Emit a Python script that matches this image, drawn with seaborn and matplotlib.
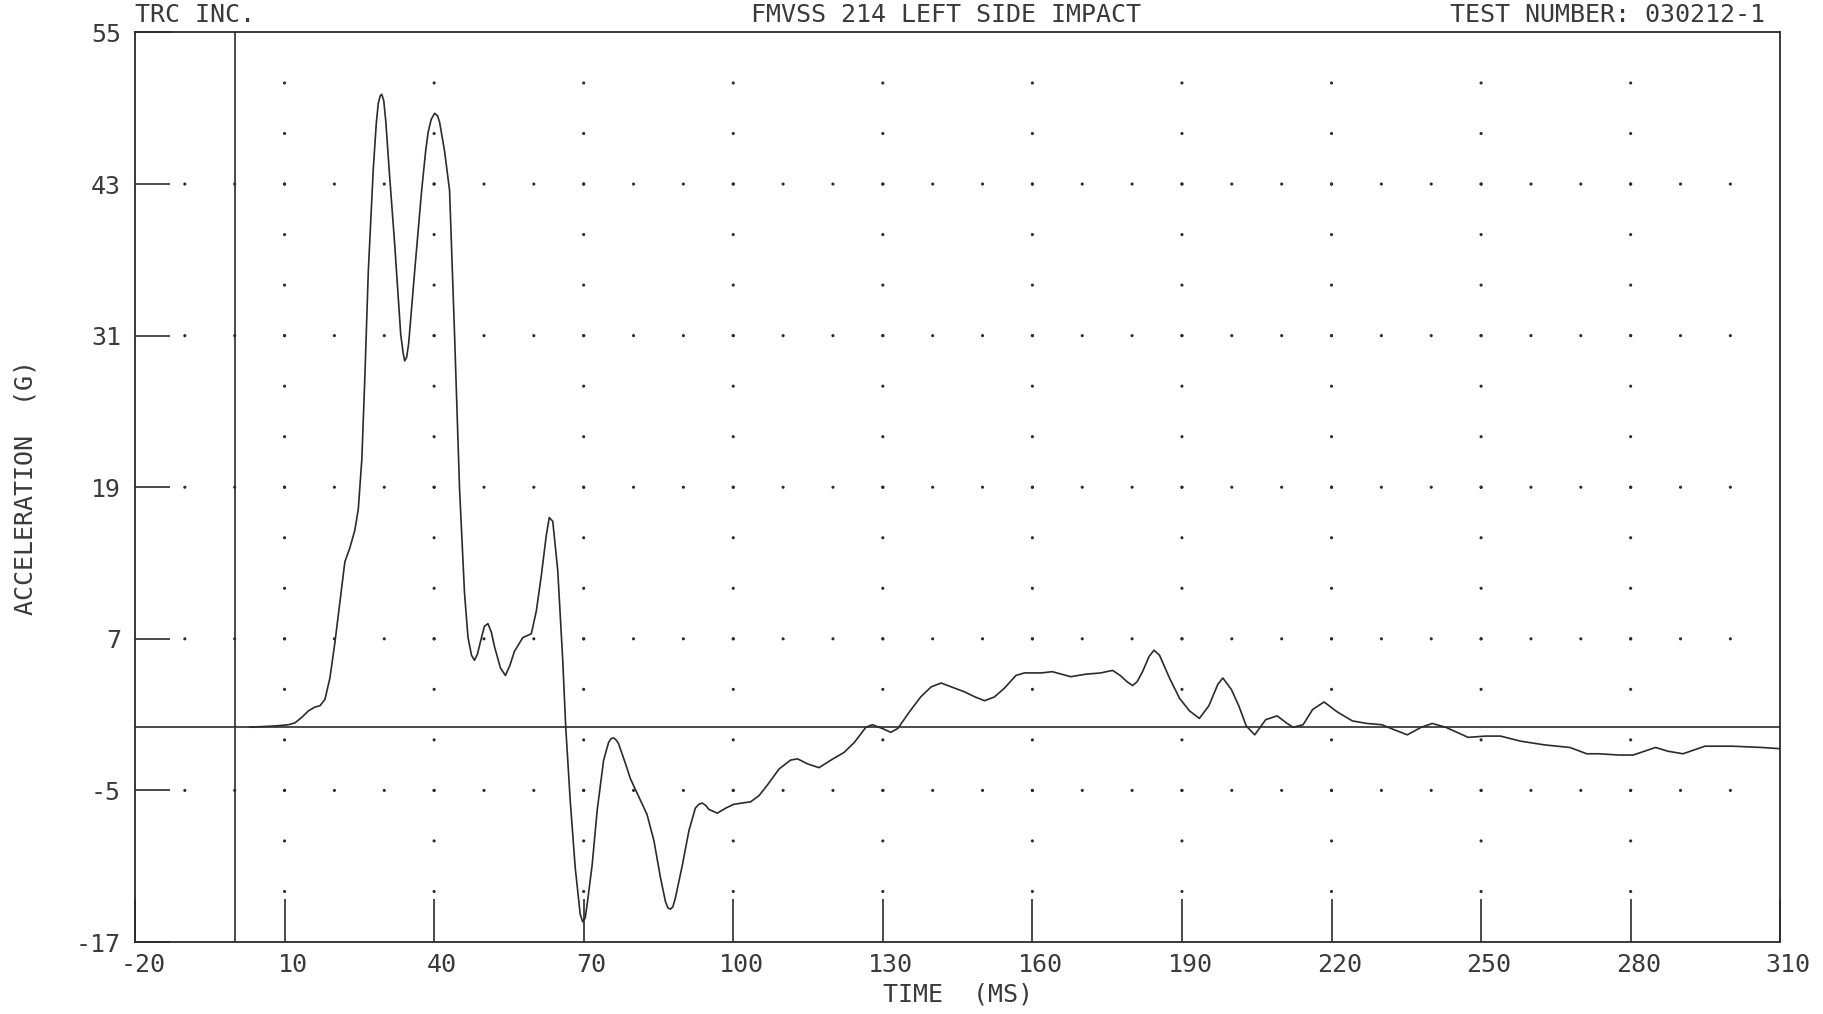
"""
FMVSS 214 left side impact - acceleration trace, redrawn with seaborn.
"""

import numpy as np
import matplotlib.pyplot as plt
import matplotlib.transforms as mtransforms
import seaborn as sns

# ---- data ----
time_ms = [
    3.0, 8.0, 10.8, 12.1, 13.5, 14.8, 16.1, 17.1, 18.1, 19.1, 20.1, 21.1,
    22.1, 23.1, 24.1, 24.8, 25.5, 26.1, 26.8, 27.8, 28.4, 28.8, 29.2, 29.5,
    29.9, 30.3, 31.1, 32.1, 33.3, 33.8, 34.1, 34.5, 34.9, 36.1, 37.5, 38.3,
    38.8, 39.4, 40.1, 40.7, 41.1, 42.1, 43.1, 44.1, 45.1, 46.1, 46.8, 47.5,
    48.1, 48.7, 49.5, 50.1, 50.8, 51.5, 52.1, 53.3, 54.3, 55.2, 56.1, 57.8,
    59.5, 60.5, 61.5, 62.5, 63.1, 63.8, 64.8, 65.8, 66.4, 67.3, 68.3, 69.3,
    69.8, 70.3, 70.7, 71.7, 72.7, 74.0, 75.0, 75.5, 76.0, 76.5, 77.0, 78.4,
    79.4, 80.7, 82.7, 84.1, 85.4, 86.4, 86.9, 87.4, 87.9, 88.4, 89.8, 91.1,
    92.4, 93.1, 93.8, 94.5, 95.1, 96.8, 98.5, 100.1, 103.5, 105.2, 106.8,
    109.2, 111.5, 112.9, 114.9, 117.2, 119.6, 122.2, 124.3, 126.6, 127.9,
    129.9, 131.6, 133.0, 135.3, 137.6, 139.7, 141.7, 143.7, 146.4, 148.5,
    150.4, 152.4, 154.4, 156.7, 158.4, 161.8, 164.0, 167.7, 170.7, 173.7,
    176.1, 177.6, 179.0, 180.1, 181.0, 182.1, 183.4, 184.4, 185.5, 187.5,
    189.5, 191.5, 193.5, 195.4, 197.2, 198.2, 199.9, 201.4, 202.9, 204.6,
    206.8, 209.1, 211.1, 212.3, 214.3, 216.2, 218.5, 221.2, 224.2, 227.1,
    230.1, 232.6, 235.2, 238.0, 240.2, 242.9, 247.4, 250.9, 253.9, 257.9,
    262.8, 267.8, 271.2, 273.7, 277.7, 280.5, 285.0, 287.5, 290.5, 294.9,
    300.4, 306.3, 310.0,
]
accel_g = [
    0.0, 0.1, 0.2, 0.35, 0.8, 1.3, 1.6, 1.7, 2.2, 3.9, 6.7, 9.9,
    13.1, 14.2, 15.6, 17.3, 21.2, 27.6, 36.1, 44.2, 47.8, 49.4, 50.0, 50.1,
    49.6, 48.0, 43.5, 38.2, 31.1, 29.6, 29.0, 29.3, 30.4, 36.1, 42.5, 45.6,
    47.1, 48.1, 48.6, 48.4, 47.9, 45.6, 42.5, 31.1, 18.9, 10.6, 7.1, 5.7,
    5.3, 5.8, 7.1, 8.0, 8.2, 7.5, 6.4, 4.7, 4.1, 4.9, 6.0, 7.1,
    7.4, 9.2, 12.0, 15.2, 16.6, 16.3, 12.4, 5.3, 0.0, -5.8, -11.1, -14.8,
    -15.4, -15.1, -14.0, -10.9, -6.6, -2.6, -1.2, -0.9, -0.84, -1.0, -1.3, -2.9,
    -4.1, -5.2, -6.9, -9.0, -11.9, -13.8, -14.3, -14.4, -14.2, -13.5, -10.9, -8.2,
    -6.4, -6.1, -6.0, -6.2, -6.5, -6.8, -6.4, -6.1, -5.9, -5.4, -4.6,
    -3.3, -2.6, -2.5, -2.9, -3.2, -2.6, -2.0, -1.2, 0.0, 0.2,
    -0.1, -0.4, -0.1, 1.2, 2.4, 3.2, 3.5, 3.2, 2.8, 2.4,
    2.1, 2.4, 3.1, 4.1, 4.3, 4.3, 4.4, 4.0, 4.2, 4.3,
    4.5, 4.1, 3.6, 3.3, 3.6, 4.4, 5.6, 6.1, 5.7, 3.9,
    2.3, 1.3, 0.7, 1.7, 3.4, 3.9, 3.0, 1.7, 0.1, -0.6,
    0.6, 0.9, 0.3, 0.0, 0.2, 1.4, 2.0, 1.2, 0.5, 0.3,
    0.2, -0.2, -0.6, 0.0, 0.3, 0.0, -0.8, -0.7, -0.7, -1.1,
    -1.4, -1.6, -2.1, -2.1, -2.2, -2.2, -1.6, -1.9, -2.1, -1.5,
    -1.5, -1.6, -1.7,
]

x_ticks = [-20, 10, 40, 70, 100, 130, 160, 190, 220, 250, 280, 310]
y_ticks = [-17, -5, 7, 19, 31, 43, 55]
x_minor_step = 10
y_minor_step = 4

header_left = "TRC INC."
header_mid = "FMVSS 214 LEFT SIDE IMPACT"
header_right = "TEST NUMBER: 030212-1"
x_label = "TIME  (MS)"
y_label = "ACCELERATION  (G)"

ink = "#2b2b2b"
text_ink = "#3a3a3a"

sns.set_style("white")
plt.rcParams['font.family'] = ['DejaVu Sans Mono', 'DejaVu Sans']
plt.rcParams['font.size'] = 18

fig = plt.figure(figsize=(18.24, 10.14), dpi=100)
ax = fig.add_axes([0.074, 0.071, 0.902, 0.897])

# dotted grid: minor y steps on major x columns, minor x steps on major y rows
col_x, col_y = [], []
for xv in x_ticks[1:-1]:
    for yv in np.arange(y_ticks[0] + y_minor_step, y_ticks[-1], y_minor_step):
        col_x.append(xv)
        col_y.append(yv)
for yv in y_ticks[1:-1]:
    for xv in np.arange(x_ticks[0] + x_minor_step, x_ticks[-1], x_minor_step):
        col_x.append(xv)
        col_y.append(yv)
sns.scatterplot(x=col_x, y=col_y, ax=ax, s=5, color=ink, edgecolor='none',
                linewidth=0, zorder=1)

# reference lines at t=0 and a=0
ax.axvline(0, color=ink, linewidth=1.2, zorder=2)
ax.axhline(0, color=ink, linewidth=1.2, zorder=2)

# acceleration trace
sns.lineplot(x=time_ms, y=accel_g, ax=ax, color=ink, linewidth=1.2,
             sort=False, zorder=3)

ax.set_xlim(x_ticks[0], x_ticks[-1])
ax.set_ylim(y_ticks[0], y_ticks[-1])
ax.set_xticks(x_ticks)
ax.set_yticks(y_ticks)
ax.set_xticklabels([str(v) for v in x_ticks])
ax.set_yticklabels([str(v) for v in y_ticks])
ax.tick_params(axis='x', bottom=True, top=False, direction='in', length=31,
               width=1.2, color=ink, labelcolor=text_ink, pad=8, labelsize=18)
ax.tick_params(axis='y', left=True, right=False, direction='in', length=25,
               width=1.2, color=ink, labelcolor=text_ink, pad=10, labelsize=18)

# plotter labels sit a little right of their ticks
shift = mtransforms.ScaledTranslation(8 / 100, 0, fig.dpi_scale_trans)
for lab in ax.get_xticklabels():
    lab.set_transform(lab.get_transform() + shift)

for side in ['left', 'right', 'top', 'bottom']:
    ax.spines[side].set_visible(True)
    ax.spines[side].set_color(ink)
    ax.spines[side].set_linewidth(1.3)

ax.set_xlabel(x_label, color=text_ink, fontsize=18, labelpad=4)
ax.set_ylabel(y_label, color=text_ink, fontsize=18, labelpad=28)

ax.text(0.0, 1.006, header_left, transform=ax.transAxes, ha='left',
        va='bottom', color=text_ink, fontsize=18)
ax.text(0.493, 1.006, header_mid, transform=ax.transAxes, ha='center',
        va='bottom', color=text_ink, fontsize=18)
ax.text(0.991, 1.006, header_right, transform=ax.transAxes, ha='right',
        va='bottom', color=text_ink, fontsize=18)

fig.savefig('out.png', dpi=100)
plt.close(fig)
